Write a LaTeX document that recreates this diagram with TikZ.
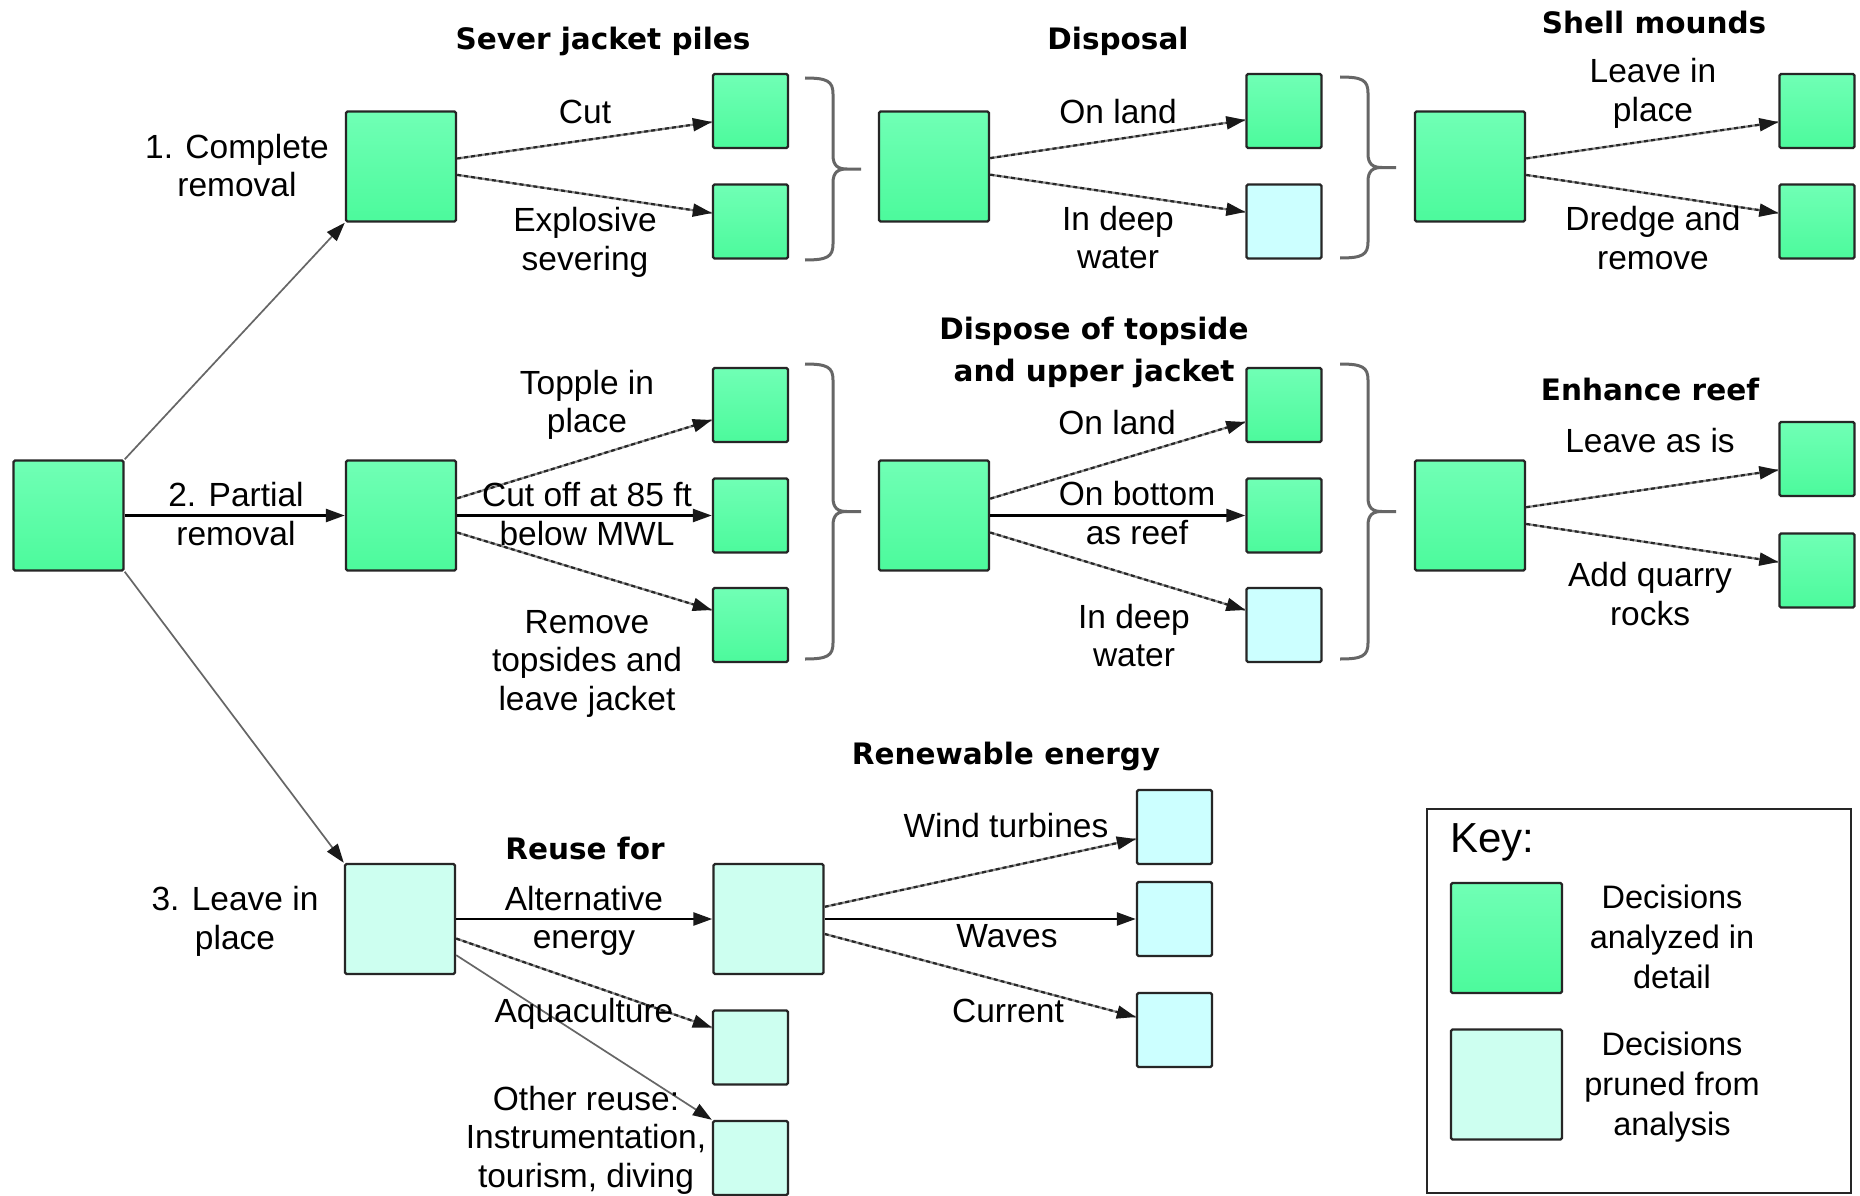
\documentclass[tikz,border=0pt]{standalone}
\usepackage{fontspec}
\setmainfont{Liberation Sans}
\newfontfamily\headfont{DejaVu Sans}
\usetikzlibrary{arrows.meta}

\definecolor{greenTop}{HTML}{70FFB5}
\definecolor{greenBot}{HTML}{4CFA9C}
\definecolor{mint}{HTML}{CDFFF0}
\definecolor{cyanlt}{HTML}{CCFFFF}

\tikzset{
  box/.style={draw=black!85, line width=2.4pt, rounded corners=1.5pt, inner sep=0pt},
  big/.style={box, minimum width=110pt, minimum height=110pt},
  small/.style={box, minimum width=75pt, minimum height=74pt},
  kept/.style={top color=greenTop, bottom color=greenBot},
  pruned/.style={fill=mint},
  deep/.style={fill=cyanlt},
  lbl/.style={font=\fontsize{33.5}{38.5}\selectfont, align=center, inner sep=0pt},
  head/.style={font=\headfont\bfseries\fontsize{29.5}{42}\selectfont, align=center, inner sep=0pt},
  keytxt/.style={font=\fontsize{32.5}{40}\selectfont, align=center, inner sep=0pt},
  tipped/.style={-{Triangle[length=19pt,width=13pt,color=black!90]}},
  firm/.style={tipped, draw=black, line width=2.6pt},
  faint/.style={tipped, draw=black!60, line width=1.7pt},
  dashlink/.style={tipped, draw=black!85, line width=2.2pt, dash pattern=on 4pt off 3pt,
    preaction={draw=black!45, line width=2.2pt, arrows=-}},
  bracestyle/.style={draw=black!60, line width=3pt},
}

% right-facing curly brace: x of open ends, top y, bottom y
\newcommand\curlybrace[3]{%
  \pgfmathsetmacro\bm{(#2+#3)/2}%
  \draw[bracestyle] (#1,#2) .. controls (#1+22,#2) and (#1+28,#2+3) .. (#1+28,#2+16)
     -- (#1+28,\bm-14) .. controls (#1+28,\bm-3) and (#1+33,\bm) .. (#1+42,\bm) -- (#1+56,\bm)
     (#1+42,\bm) .. controls (#1+33,\bm) and (#1+28,\bm+3) .. (#1+28,\bm+14)
     -- (#1+28,#3-16) .. controls (#1+28,#3-3) and (#1+22,#3) .. (#1,#3);}

\begin{document}
\begin{tikzpicture}[x=1pt, y=-1pt]
\fill[white] (0,0) rectangle (1860,1196);
\useasboundingbox (0,0) rectangle (1860,1196);

% decision boxes
\node[big, kept] (root) at (68.5,515.5) {};
\node[big, kept] (n1) at (401,166.5) {};
\node[big, kept] (n2) at (401,515.5) {};
\node[big, pruned] (n3) at (400,919) {};

\node[small, kept] (cut) at (750.5,111) {};
\node[small, kept] (expl) at (750.5,221.5) {};
\node[small, kept] (topple) at (750.5,405) {};
\node[small, kept] (cutoff) at (750.5,515.5) {};
\node[small, kept] (remtop) at (750.5,625) {};
\node[small, pruned] (aqua) at (750.5,1047.5) {};
\node[small, pruned] (other) at (750.5,1158) {};

\node[big, kept] (disp) at (934,166.5) {};
\node[big, kept] (topside) at (934,515.5) {};
\node[big, pruned] (renew) at (768.5,919) {};

\node[small, kept] (land1) at (1284,111) {};
\node[small, deep] (deep1) at (1284,221.5) {};
\node[small, kept] (land2) at (1284,405) {};
\node[small, kept] (bottom) at (1284,515.5) {};
\node[small, deep] (deep2) at (1284,625) {};

\node[small, deep] (wind) at (1174.5,827) {};
\node[small, deep] (waves) at (1174.5,919) {};
\node[small, deep] (current) at (1174.5,1030) {};

\node[big, kept] (shell) at (1470,166.5) {};
\node[big, kept] (reef) at (1470,515.5) {};

\node[small, kept] (leave) at (1817,111) {};
\node[small, kept] (dredge) at (1817,221.5) {};
\node[small, kept] (asis) at (1817,459) {};
\node[small, kept] (quarry) at (1817,570.5) {};

% braces
\curlybrace{805}{78}{260}
\curlybrace{805}{364}{659}
\curlybrace{1340}{77}{258}
\curlybrace{1340}{364}{659}

% connectors
\draw[faint] (root.north east) -- (n1.south west);
\draw[firm] (root) -- (n2);
\draw[faint] (root.south east) -- (n3.north west);

\draw[dashlink] (n1) -- ([yshift=-11pt]cut.west);
\draw[dashlink] (n1) -- ([yshift=8.5pt]expl.west);
\draw[dashlink] (disp) -- ([yshift=-9pt]land1.west);
\draw[dashlink] (disp) -- ([yshift=9.5pt]deep1.west);
\draw[dashlink] (shell) -- ([yshift=-11pt]leave.west);
\draw[dashlink] (shell) -- ([yshift=8.5pt]dredge.west);

\draw[dashlink] (n2) -- ([yshift=-15pt]topple.west);
\draw[firm] (n2) -- (cutoff);
\draw[dashlink] (n2) -- ([yshift=15pt]remtop.west);
\draw[dashlink] (topside) -- ([yshift=-17pt]land2.west);
\draw[firm] (topside) -- (bottom);
\draw[dashlink] (topside) -- ([yshift=15pt]deep2.west);
\draw[dashlink] (reef) -- ([yshift=-11pt]asis.west);
\draw[dashlink] (reef) -- ([yshift=8.5pt]quarry.west);

\draw[firm] (n3) -- (renew);
\draw[dashlink] (n3) -- ([yshift=20pt]aqua.west);
\draw[faint] (n3) -- (other.north west);
\draw[dashlink] (renew) -- ([yshift=-12pt]wind.west);
\draw[firm] (renew) -- (waves);
\draw[dashlink] (renew) -- ([yshift=13pt]current.west);

% stage headings
\node[head] (h1) at (603,41.6) {Sever jacket piles};
\node[head] (h2) at (1118,41.6) {Disposal};
\node[head] (h3) at (1654,22.6) {Shell mounds};
\node[head] (h4) at (1094,352.6) {Dispose of topside\\and upper jacket};
\node[head] (h5) at (1650,389) {Enhance reef};
\node[head] (h6) at (1006,756.6) {Renewable energy};
\node[head] (h7) at (585,848.6) {Reuse for};

% branch labels
\node[lbl] (t1) at (237,170) {\strut 1. Complete\\\strut removal};
\node[lbl] (t2) at (236,518.5) {\strut 2. Partial\\\strut removal};
\node[lbl] (t3) at (235,922.5) {\strut 3. Leave in\\\strut place};

\node[lbl] (tcut) at (585,115.5) {\strut Cut};
\node[lbl] (texpl) at (585,243.5) {\strut Explosive\\\strut severing};
\node[lbl] (tland1) at (1118,115.5) {\strut On land};
\node[lbl] (tdeep1) at (1118,242) {\strut In deep\\\strut water};
\node[lbl] (tleave) at (1653,94.5) {\strut Leave in\\\strut place};
\node[lbl] (tdredge) at (1653,242.5) {\strut Dredge and\\\strut remove};

\node[lbl] (ttopple) at (587,406) {\strut Topple in\\\strut place};
\node[lbl] (tcutoff) at (587,518.5) {\strut Cut off at 85 ft\\\strut below MWL};
\node[lbl] (tremtop) at (587,664) {\strut Remove\\\strut topsides and\\\strut leave jacket};
\node[lbl] (tland2) at (1117,427) {\strut On land};
\node[lbl] (tbottom) at (1137,517.5) {\strut On bottom\\\strut as reef};
\node[lbl] (tdeep2) at (1134,640) {\strut In deep\\\strut water};
\node[lbl] (tasis) at (1650,445) {\strut Leave as is};
\node[lbl] (tquarry) at (1650,598.5) {\strut Add quarry\\\strut rocks};

\node[lbl] (talt) at (584,922) {\strut Alternative\\\strut energy};
\node[lbl] (taqua) at (584,1015) {\strut Aquaculture};
\node[lbl] (tother) at (586,1141) {\strut Other reuse:\\\strut Instrumentation,\\\strut tourism, diving};
\node[lbl] (twind) at (1006,830) {\strut Wind turbines};
\node[lbl] (twaves) at (1007,940) {\strut Waves};
\node[lbl] (tcurrent) at (1008,1015) {\strut Current};

% key
\node[draw=black!85, line width=2pt, minimum width=424pt, minimum height=384pt, inner sep=0pt] (key) at (1639,1001) {};
\node[font=\fontsize{42}{48}\selectfont, anchor=base west, inner sep=0pt] (keytitle) at (1450,852) {Key:};
\node[box, kept, minimum width=111pt, minimum height=110pt] (k1) at (1506.5,938) {};
\node[box, pruned, minimum width=111pt, minimum height=110pt] (k2) at (1506.5,1084.5) {};
\node[keytxt] (kd1) at (1672,940) {\strut Decisions\\\strut analyzed in\\\strut detail};
\node[keytxt] (kd2) at (1672,1087) {\strut Decisions\\\strut pruned from\\\strut analysis};
\end{tikzpicture}
\end{document}
